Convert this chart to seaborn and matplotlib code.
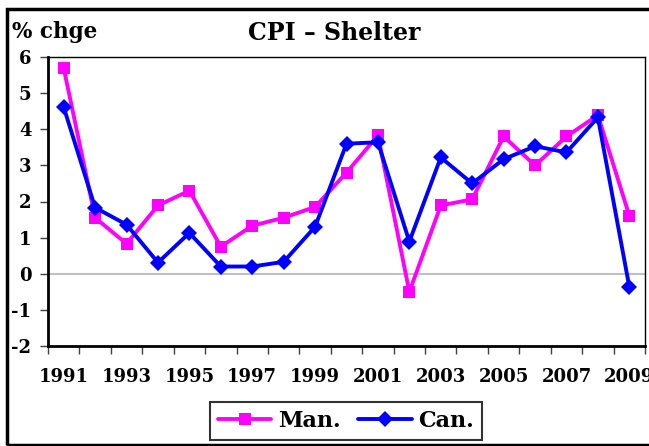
import matplotlib.pyplot as plt
import matplotlib.ticker as mticker
from matplotlib.patches import Rectangle
import pandas as pd
import seaborn as sns

years = list(range(1991, 2010))
man = [5.69, 1.55, 0.83, 1.89, 2.3, 0.75, 1.33, 1.55, 1.85, 2.8,
       3.83, -0.5, 1.89, 2.06, 3.8, 3.0, 3.8, 4.39, 1.61]
can = [4.61, 1.83, 1.36, 0.31, 1.13, 0.2, 0.2, 0.33, 1.3, 3.6,
       3.64, 0.89, 3.22, 2.5, 3.17, 3.53, 3.36, 4.33, -0.36]
series = ["Man.", "Can."]
colors = {"Man.": "#ff00ff", "Can.": "#0000ff"}
yticks = [-2, -1, 0, 1, 2, 3, 4, 5, 6]
xlabels = list(range(1991, 2010, 2))

df = pd.DataFrame({
    "year": years * 2,
    "pct": man + can,
    "series": ["Man."] * len(years) + ["Can."] * len(years),
})

sns.set_style("white")
plt.rcParams["font.family"] = ["DejaVu Serif"]
plt.rcParams["font.weight"] = "bold"
plt.rcParams["text.color"] = "black"
plt.rcParams["xtick.labelcolor"] = "black"
plt.rcParams["ytick.labelcolor"] = "black"

fig = plt.figure(figsize=(6.49, 4.46), dpi=100)
ax = fig.add_axes([48 / 649, 1 - 346 / 446, 597 / 649, 289 / 446])

sns.lineplot(data=df, x="year", y="pct", hue="series", style="series",
             hue_order=series, style_order=series, palette=colors,
             markers={"Man.": "s", "Can.": "D"}, dashes=False,
             linewidth=2.8, markersize=8.5, markeredgewidth=0,
             legend=False, ax=ax, zorder=3)
handles = list(ax.lines[:2])
ax.axhline(0, color="#c0c0c0", lw=1.5, zorder=1)

ax.set_xlim(1990.5, 2009.5)
ax.set_ylim(-2, 6)
ax.set_xlabel("")
ax.set_ylabel("")

ax.set_xticks(xlabels)
ax.set_xticklabels([str(y) for y in xlabels], fontsize=13, fontweight="bold")
ax.xaxis.set_minor_locator(mticker.FixedLocator([y + 0.5 for y in range(1990, 2010)]))
ax.tick_params(axis="x", which="major", length=0, pad=16)
ax.tick_params(axis="x", which="minor", length=6, width=1, color="#404040",
               direction="out", bottom=True)
ax.set_yticks(yticks)
ax.set_yticklabels([str(v) for v in yticks], fontsize=13, fontweight="bold")
ax.tick_params(axis="y", length=6, width=1, color="#404040", direction="out",
               left=True, pad=6)

for side in ["left", "bottom"]:
    ax.spines[side].set_linewidth(2)
    ax.spines[side].set_color("black")
for side in ["top", "right"]:
    ax.spines[side].set_linewidth(1)
    ax.spines[side].set_color("black")

fig.text(248 / 649, 1 - 33 / 446, "CPI – Shelter", fontsize=17,
         fontweight="bold", va="center", ha="left")
fig.text(12 / 649, 1 - 32 / 446, "% chge", fontsize=15.5,
         fontweight="bold", va="center", ha="left")

leg = fig.legend(handles, series, loc="center", ncol=2,
                 bbox_to_anchor=(346 / 649, 1 - 421 / 446),
                 prop={"size": 16, "weight": "bold"}, frameon=True,
                 fancybox=False, handlelength=2.4, handletextpad=0.3,
                 columnspacing=0.8, borderpad=0.35)
leg.get_frame().set_edgecolor("black")
leg.get_frame().set_linewidth(1.5)

fig.patches.append(Rectangle((7 / 649, 1 / 446), 1.2, 1 - 10 / 446,
                             transform=fig.transFigure, fill=False,
                             edgecolor="black", lw=2.5, clip_on=False))

fig.savefig("out.png", dpi=100)
